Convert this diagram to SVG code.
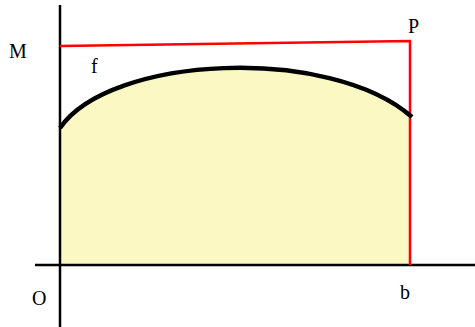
<svg xmlns="http://www.w3.org/2000/svg" width="475" height="327" viewBox="0 0 475 327">
<style>
.lbl{font-family:"Liberation Serif","Times New Roman",serif;font-size:20px;fill:#000}
.axis{stroke:#000;stroke-width:2.5;fill:none}
.red{stroke:#ff0000;stroke-width:2.5;fill:none}
</style>
<rect width="475" height="327" fill="#fff"/>
<g id="area">
<path d="M60,128 C110,55 330,45 411,117 L411,265 L60,265 Z" fill="#fbf8c4"/>
</g>
<g id="connectors">
<line class="axis" x1="60" y1="5" x2="60" y2="327"/>
<line class="axis" x1="35" y1="265" x2="475" y2="265"/>
<polyline class="red" points="60,46 410,41 410,265"/>
<path d="M60,128 C110,55 330,45 412,117" fill="none" stroke="#000" stroke-width="4.5"/>
</g>
<g id="labels">
<text class="lbl" x="9" y="58">M</text>
<text class="lbl" x="91" y="73">f</text>
<text class="lbl" x="408" y="33">P</text>
<text class="lbl" x="32" y="305">O</text>
<text class="lbl" x="400" y="299">b</text>
</g>
</svg>
